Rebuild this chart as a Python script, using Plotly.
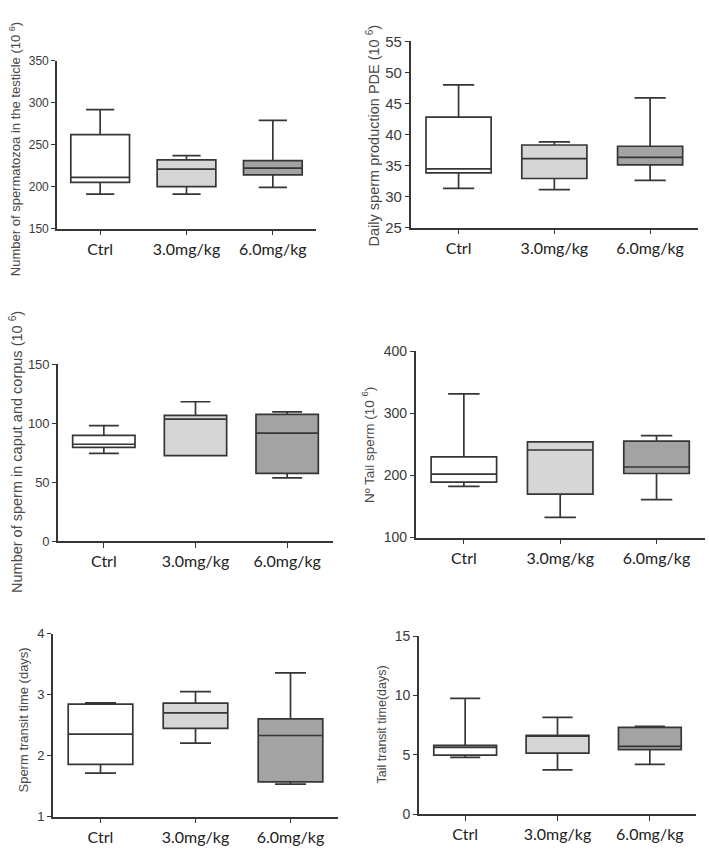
import plotly.graph_objects as go

W, H = 709, 852

groups = ["Ctrl", "3.0mg/kg", "6.0mg/kg"]
fills = ["#ffffff", "#d6d6d6", "#a3a3a3"]

# Panel 1: Number of spermatozoa in the testicle
testis_low = [191, 191, 199]
testis_q1 = [205, 200, 214]
testis_med = [211, 221, 222]
testis_q3 = [262, 232, 231]
testis_high = [292, 237, 279]

# Panel 2: Daily sperm production
dsp_low = [31.3, 31.1, 32.6]
dsp_q1 = [33.8, 32.9, 35.1]
dsp_med = [34.45, 36.1, 36.3]
dsp_q3 = [42.8, 38.3, 38.1]
dsp_high = [48.0, 38.8, 45.9]

# Panel 3: Number of sperm in caput and corpus
caput_low = [74.7, 72.7, 53.8]
caput_q1 = [79.7, 72.7, 57.7]
caput_med = [82.4, 103.7, 91.8]
caput_q3 = [89.9, 106.8, 107.7]
caput_high = [98.2, 118.4, 109.9]

# Panel 4: Tail sperm
tail_low = [182.4, 132.5, 161]
tail_q1 = [189.3, 170, 203]
tail_med = [202, 240.8, 213.5]
tail_q3 = [229.8, 254, 255]
tail_high = [331, 254, 264]

# Panel 5: Sperm transit time
transit_low = [1.713, 2.205, 1.531]
transit_q1 = [1.857, 2.447, 1.568]
transit_med = [2.35, 2.70, 2.329]
transit_q3 = [2.843, 2.86, 2.602]
transit_high = [2.864, 3.047, 3.357]

# Panel 6: Tail transit time
ttransit_low = [4.79, 3.74, 4.21]
ttransit_q1 = [4.98, 5.15, 5.45]
ttransit_med = [5.64, 6.58, 5.72]
ttransit_q3 = [5.81, 6.66, 7.32]
ttransit_high = [9.77, 8.17, 7.4]

panels = [
    dict(stats=(testis_low, testis_q1, testis_med, testis_q3, testis_high),
         yrange=[150, 350], dtick=50, px=(57, 316), py=(53, 224), tfs=12,
         title="Number of spermatozoa in the testicle (10 <sup>6</sup>)", tx=15, ty=143, ts=13),
    dict(stats=(dsp_low, dsp_q1, dsp_med, dsp_q3, dsp_high),
         yrange=[25, 55], dtick=5, px=(410.7, 698), py=(33, 223), tfs=15,
         title="Daily sperm production PDE (10 <sup>6</sup>)", tx=373, ty=129, ts=14.5),
    dict(stats=(caput_low, caput_q1, caput_med, caput_q3, caput_high),
         yrange=[0, 150], dtick=50, px=(58, 333), py=(362.7, 543.3), tfs=13,
         title="Number of sperm in caput and corpus (10 <sup>6</sup>)", tx=16, ty=452, ts=14.5),
    dict(stats=(tail_low, tail_q1, tail_med, tail_q3, tail_high),
         yrange=[100, 400], dtick=100, px=(415.7, 704.7), py=(349, 539.3), tfs=14,
         title="Nº Tail sperm (10 <sup>6</sup>)", tx=368, ty=445, ts=13.5),
    dict(stats=(transit_low, transit_q1, transit_med, transit_q3, transit_high),
         yrange=[1, 4], dtick=1, px=(53, 338), py=(637.3, 824), tfs=13,
         title="Sperm transit time (days)", tx=24, ty=726, ts=13),
    dict(stats=(ttransit_low, ttransit_q1, ttransit_med, ttransit_q3, ttransit_high),
         yrange=[0, 15], dtick=5, px=(419, 696), py=(640, 821.7), tfs=14,
         title="Tail transit time(days)", tx=382, ty=730, ts=12.5),
]

LINE = "#363636"
fig = go.Figure()
layout = dict(
    width=W, height=H, margin=dict(l=0, r=0, t=0, b=0),
    paper_bgcolor="white", plot_bgcolor="white",
    showlegend=False, boxmode="overlay", annotations=[],
)

for k, p in enumerate(panels):
    n = "" if k == 0 else str(k + 1)
    low, q1, med, q3, high = p["stats"]
    for i, g in enumerate(groups):
        fig.add_trace(go.Box(
            x=[g], q1=[q1[i]], median=[med[i]], q3=[q3[i]],
            lowerfence=[low[i]], upperfence=[high[i]],
            fillcolor=fills[i], line=dict(color=LINE, width=1.7),
            width=0.68, whiskerwidth=0.48, boxpoints=False,
            xaxis="x" + n, yaxis="y" + n, hoverinfo="skip",
        ))
    x0, x1 = p["px"]
    y0, y1 = p["py"]
    layout["xaxis" + n] = dict(
        domain=[x0 / W, x1 / W], anchor="y" + n, type="category",
        categoryorder="array", categoryarray=groups, range=[-0.5, 2.5],
        showline=True, linecolor=LINE, linewidth=1.6, showgrid=False,
        zeroline=False, ticks="outside", ticklen=5, tickwidth=1.4,
        tickcolor=LINE, tickfont=dict(family="Lato", size=16, color="#222222"),
    )
    layout["yaxis" + n] = dict(
        domain=[1 - y1 / H, 1 - y0 / H], anchor="x" + n,
        range=p["yrange"], dtick=p["dtick"], showline=True, linecolor=LINE,
        linewidth=1.6, showgrid=False, zeroline=False, ticks="outside",
        ticklen=4, tickwidth=1.4, tickcolor=LINE,
        tickfont=dict(family="Liberation Sans, Arial", size=p["tfs"], color="#3a3a3a"),
    )
    layout["annotations"].append(dict(
        text=p["title"], xref="paper", yref="paper",
        x=p["tx"] / W, y=1 - p["ty"] / H, xanchor="center", yanchor="middle",
        textangle=-90, showarrow=False,
        font=dict(family="Liberation Sans, Arial", size=p["ts"], color="#4a4a4a"),
    ))

fig.update_layout(**layout)
fig.write_html("out.html")
